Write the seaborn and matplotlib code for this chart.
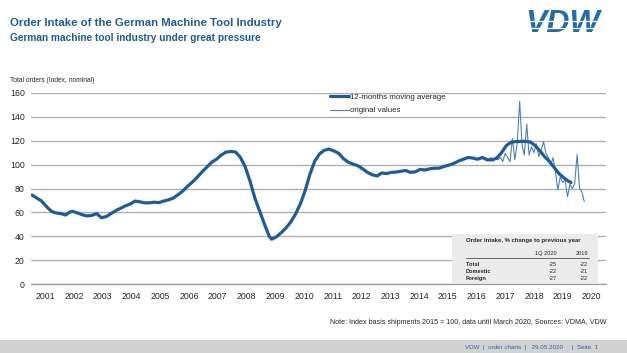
import numpy as np
import pandas as pd
import matplotlib
matplotlib.use("Agg")
import matplotlib.pyplot as plt
import matplotlib.dates as mdates
import seaborn as sns

# --- data ---
ma_months = [
    "2001-01", "2001-03", "2001-05", "2001-07", "2001-09", "2001-11",
    "2002-01", "2002-03", "2002-05", "2002-06", "2002-08", "2002-10", "2002-12",
    "2003-02", "2003-04", "2003-06", "2003-08", "2003-10", "2003-12",
    "2004-02", "2004-04", "2004-06", "2004-08", "2004-10", "2004-12",
    "2005-02", "2005-04", "2005-06", "2005-08", "2005-10", "2005-12",
    "2006-02", "2006-04", "2006-06", "2006-08", "2006-10", "2006-12",
    "2007-02", "2007-04", "2007-06", "2007-08", "2007-10", "2007-12",
    "2008-02", "2008-04", "2008-06", "2008-08", "2008-10", "2008-12",
    "2009-02", "2009-04", "2009-05", "2009-07", "2009-09", "2009-11",
    "2010-01", "2010-03", "2010-05", "2010-07", "2010-09", "2010-11",
    "2011-01", "2011-03", "2011-05", "2011-07", "2011-09", "2011-11",
    "2012-01", "2012-03", "2012-05", "2012-07", "2012-09", "2012-11",
    "2013-01", "2013-03", "2013-05", "2013-07", "2013-09", "2013-11",
    "2014-01", "2014-03", "2014-05", "2014-07", "2014-09", "2014-11",
    "2015-01", "2015-03", "2015-05", "2015-07", "2015-09", "2015-11",
    "2016-01", "2016-03", "2016-05", "2016-07", "2016-09", "2016-11",
    "2017-01", "2017-03", "2017-05", "2017-07", "2017-09", "2017-11",
    "2018-01", "2018-03", "2018-05", "2018-07", "2018-09", "2018-11",
    "2019-01", "2019-03", "2019-05", "2019-07", "2019-09", "2019-10",
]
ma_values = [
    74.5, 72, 69.5, 65, 61, 59.5,
    59, 57.8, 60.5, 60.8, 59.5, 58, 57,
    57.5, 59, 55.5, 56.5, 59, 61.5,
    63.5, 65.5, 67, 69.5, 68.8, 68,
    68, 68.5, 68.2, 69.5, 70.5, 72,
    75, 78, 82, 85.5, 89.5, 94,
    98, 102, 104.5, 108, 110.5, 111,
    110.5, 106, 98, 86, 72, 61,
    50, 40, 37.5, 39.5, 43, 47,
    52, 58.5, 67, 78, 92, 103,
    109, 112, 113, 111.5, 109.5, 105,
    102, 100.5, 99, 96.5, 93.5, 91.5,
    90.5, 93, 92.5, 93.5, 93.8, 94.5,
    95, 93.5, 94, 96, 95.5, 96.5,
    97, 97, 98.5, 99.5, 101, 103,
    104.5, 106, 105.5, 104.5, 106, 104,
    104, 105.5, 110, 116, 118.8, 119.3,
    119.5, 119.5, 119, 116, 111.5, 106.5,
    102.5, 97.5, 92.5, 89, 86, 85,
]

orig_start, orig_end = "2016-11", "2020-03"
orig_values = [
    104, 106,
    103, 105, 104, 106, 102.5, 109.5, 106, 102.5, 122, 104, 118, 153,
    116, 108, 134, 108, 115, 110, 117.5, 106.7, 112, 119.2, 109.5, 106,
    99.7, 105.8, 94, 78.7, 89.9, 85, 87, 73, 83.5, 80, 84, 108.6,
    80, 77.3, 69,
]

table_rows = ["Total", "Domestic", "Foreign"]
q1_2020 = [-25, -22, -27]
y2019 = [-22, -21, -22]

BLUE = "#1b5d9c"
LIGHT = "#4f80bb"

ma = pd.DataFrame({"date": pd.to_datetime(ma_months) + pd.Timedelta(days=14), "value": ma_values})
orig_dates = pd.date_range(orig_start, orig_end, freq="MS") + pd.offsets.MonthEnd(0)
orig = pd.DataFrame({"date": orig_dates, "value": orig_values})

sns.set_theme(style="white")
plt.rcParams["font.family"] = ["Liberation Sans", "DejaVu Sans"]

fig = plt.figure(figsize=(6.27, 3.53), dpi=100)
ax = fig.add_axes([31 / 627, 1 - 284 / 353, 575 / 627, 191 / 353])

sns.lineplot(data=orig, x="date", y="value", ax=ax, color=LIGHT, linewidth=0.8,
             label="original values")
sns.lineplot(data=ma, x="date", y="value", ax=ax, color=BLUE, linewidth=2.3,
             label="12-months moving average")

ax.set_ylim(0, 160)
ax.set_yticks(range(0, 161, 20))
ax.set_xlim(pd.Timestamp("2001-01-01"), pd.Timestamp("2021-01-01"))
ax.xaxis.set_major_locator(mdates.YearLocator())
ax.xaxis.set_major_formatter(plt.NullFormatter())
ax.xaxis.set_minor_locator(mdates.MonthLocator(bymonth=7))
ax.xaxis.set_minor_formatter(mdates.DateFormatter("%Y"))
ax.tick_params(axis="x", which="major", length=3, direction="inout", color="#999999", width=0.8)
ax.tick_params(axis="x", which="minor", length=0, labelsize=6.3, pad=5.5)
ax.tick_params(axis="y", length=0, labelsize=6.3, pad=4.5)
ax.set_xlabel("")
ax.set_ylabel("")
ax.grid(axis="y", color="#b0b0b0", linewidth=1.0)
ax.set_axisbelow(True)
for s in ["top", "right", "left"]:
    ax.spines[s].set_visible(False)
ax.spines["bottom"].set_color("#999999")
ax.spines["bottom"].set_linewidth(0.9)

h, l = ax.get_legend_handles_labels()
ax.legend(h[::-1], l[::-1], loc="upper left", bbox_to_anchor=(0.515, 1.015),
          frameon=False, fontsize=5.7, handlelength=2.4, handletextpad=0.1,
          labelspacing=0.75, borderaxespad=0)

# inset table
tab = fig.add_axes([452 / 627, 1 - 283 / 353, 146 / 627, 49 / 353])
tab.set_facecolor("#ebebeb")
tab.set_xticks([])
tab.set_yticks([])
for s in tab.spines.values():
    s.set_visible(False)
tab.set_xlim(0, 146)
tab.set_ylim(49, 0)
tab.text(14, 6, "Order intake, % change to previous year", fontsize=4.3,
         fontweight="bold", va="center")
tab.text(105, 19, "1Q 2020", fontsize=4.1, va="center", ha="right")
tab.text(136, 19, "2019", fontsize=4.1, va="center", ha="right")
tab.plot([14, 137], [24, 24], color="#333333", linewidth=0.5)
for i, row in enumerate(table_rows):
    yy = 30 + i * 7.3
    tab.text(14, yy, row, fontsize=4.1, fontweight="bold", va="center")
    tab.text(105, yy, str(q1_2020[i]), fontsize=4.1, va="center", ha="right")
    tab.text(136, yy, str(y2019[i]), fontsize=4.1, va="center", ha="right")

# titles and annotations
fig.text(10 / 627, 1 - 23 / 353, "Order Intake of the German Machine Tool Industry",
         fontsize=8.2, fontweight="bold", color=BLUE, va="center")
fig.text(10 / 627, 1 - 38 / 353, "German machine tool industry under great pressure",
         fontsize=7.3, fontweight="bold", color=BLUE, va="center")
fig.text(10 / 627, 1 - 81 / 353, "Total orders (Index, nominal)", fontsize=4.8,
         va="center")
fig.text(607 / 627, 1 - 322 / 353,
         "Note: Index basis shipments 2015 = 100, data until March 2020, Sources: VDMA, VDW",
         fontsize=5.1, ha="right", va="center")

# logo
fig.text(563 / 627, 1 - 24 / 353, "VDW", fontsize=23, fontweight="bold",
         fontstyle="italic", color="#1f6cb0", ha="center", va="center")
for yy in [21, 28]:
    fig.add_artist(plt.Line2D([515 / 627, 610 / 627], [1 - yy / 353, 1 - yy / 353],
                              color="white", linewidth=0.9, zorder=10))

# footer band
band = fig.add_axes([0, 0, 1, 13 / 353])
band.set_facecolor("#d2d2d2")
band.set_xticks([])
band.set_yticks([])
for s in band.spines.values():
    s.set_visible(False)
fig.text(598 / 627, 1 - 347 / 353,
         "VDW  |  order charts  |   29.05.2020     |  Seite  1",
         fontsize=4.5, color="#2a64a8", ha="right", va="center")

fig.savefig("out.png", dpi=100)
